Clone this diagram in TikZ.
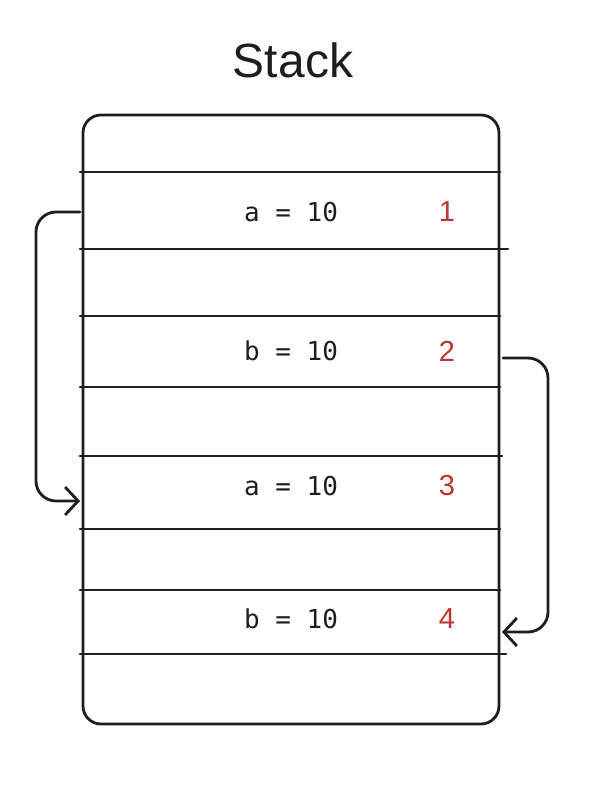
\documentclass[tikz,border=0pt]{standalone}
\usepackage{fontspec}
\setmainfont{Liberation Sans}
\newfontfamily\codefont{DejaVu Sans Mono}
\usetikzlibrary{arrows.meta}
\definecolor{numred}{RGB}{190,52,48}
\definecolor{ink}{RGB}{30,30,30}
\begin{document}
\begin{tikzpicture}[x=1pt,y=-1pt,
  ln/.style={draw=ink,line width=2.8pt,line cap=round},
  valtext/.style={font=\codefont\fontsize{26}{28}\selectfont,text=ink,inner sep=0pt},
  numtext/.style={font=\fontsize{29}{30}\selectfont,text=numred,inner sep=0pt},
  link/.style={ln,rounded corners=20pt,-{Straight Barb[length=13pt,width=28pt,line width=2.8pt]}}]
\useasboundingbox[fill=white] (0,0) rectangle (606,806);
% title
\node[font=\fontsize{48}{52}\selectfont,text=ink,inner sep=0pt] (title) at (293,60) {Stack};
% box
\draw[ln,rounded corners=18pt] (83,115) rectangle (499,724);
\coordinate (box) at (291,420);
% row lines
\foreach \y/\r in {172/500,249/508,316/500,387/500,456/502,529/500,590/500,654/506}
  \draw[ln] (80,\y) -- (\r,\y);
% texts
\node[valtext] (v1) at (291,212) {a = 10};
\node[numtext] (n1) at (447,212) {1};
\node[valtext] (v2) at (291,351) {b = 10};
\node[numtext] (n2) at (447,351) {2};
\node[valtext] (v3) at (291,486) {a = 10};
\node[numtext] (n3) at (447,486) {3};
\node[valtext] (v4) at (291,619) {b = 10};
\node[numtext] (n4) at (447,619) {4};
% connectors
\coordinate (s1) at (80,212);
\coordinate (e1) at (80,501);
\coordinate (s2) at (503,358);
\coordinate (e2) at (502,632);
\draw[link] (s1) -- (36,212) -- (36,501) -- (e1);
\draw[link] (s2) -- (548,358) -- (548,632) -- (e2);
\end{tikzpicture}
\end{document}
